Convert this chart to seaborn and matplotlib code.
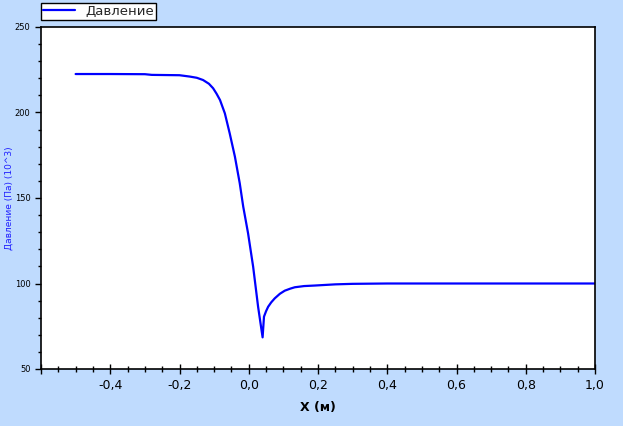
import numpy as np
import pandas as pd
import matplotlib
matplotlib.use('Agg')
import matplotlib.pyplot as plt
import seaborn as sns
from matplotlib.ticker import MultipleLocator, FuncFormatter

# pressure profile
x_m = [-0.5, -0.4, -0.3, -0.28, -0.2, -0.17, -0.15, -0.132, -0.115, -0.103,
       -0.093, -0.083, -0.069, -0.055, -0.040, -0.026, -0.016, -0.002, 0.0127, 0.027,
       0.040, 0.044, 0.05, 0.056, 0.065, 0.075, 0.09, 0.104, 0.12, 0.133,
       0.16, 0.19, 0.25, 0.3, 0.4, 0.6, 0.8, 1.0]
pressure = [222.5, 222.5, 222.4, 222.0, 221.8, 221.0, 220.3, 219.0, 216.8, 214.2,
            211.0, 207.3, 199.5, 187.8, 174.2, 158.6, 145.0, 129.4, 109.8, 86.4,
            68.5, 80.6, 83.8, 86.4, 89.0, 91.3, 94.0, 95.8, 97.0, 97.8,
            98.5, 98.8, 99.5, 99.8, 100.0, 100.0, 100.0, 100.0]

df = pd.DataFrame({'x': x_m, 'p': pressure})

sns.set_style('ticks')
plt.rcParams['font.family'] = ['DejaVu Sans']
plt.rcParams['axes.unicode_minus'] = False

bg = '#BFDBFE'
fig = plt.figure(figsize=(6.23, 4.26), dpi=100, facecolor=bg)
ax = fig.add_axes([41/623, 57/426, (595-41)/623, (369-27)/426])
ax.set_facecolor('white')

sns.lineplot(data=df, x='x', y='p', estimator=None, sort=False, color='#0000FF',
             linewidth=1.6, ax=ax, label='Давление', legend=False)

ax.set_xlim(-0.6, 1.0)
ax.set_ylim(50, 250)
ax.xaxis.set_major_locator(MultipleLocator(0.2))
ax.xaxis.set_minor_locator(MultipleLocator(0.05))
ax.yaxis.set_major_locator(MultipleLocator(50))
ax.yaxis.set_minor_locator(MultipleLocator(10))

def comma_fmt(v, pos):
    if v < -0.55:
        return ''
    return ('%.1f' % v).replace('.', ',')

ax.xaxis.set_major_formatter(FuncFormatter(comma_fmt))
ax.yaxis.set_major_formatter(FuncFormatter(lambda v, p: '%d' % v))

for s in ax.spines.values():
    s.set_color('black')
    s.set_linewidth(1.2)

ax.tick_params(axis='x', which='major', direction='inout', length=7, width=1,
               labelsize=9, pad=4, colors='black')
ax.tick_params(axis='x', which='minor', direction='inout', length=4.5, width=1, colors='black')
ax.tick_params(axis='y', which='major', direction='out', length=4.5, width=1,
               labelsize=6, pad=3, colors='black')
ax.tick_params(axis='y', which='minor', direction='out', length=2.5, width=1, colors='black')

ax.set_xlabel('X (м)', fontsize=9, fontweight='bold', labelpad=6, color='black')
ax.set_ylabel('Давление (Па) (10^3)', fontsize=6.5, color='#2020FF')
ax.yaxis.set_label_coords((14 - 41) / 554, 0.5)

leg = fig.legend(handles=ax.get_lines(), labels=['Давление'], loc='upper left',
                 bbox_to_anchor=(41/623, 1 - 3/426), borderaxespad=0, fontsize=9.5,
                 frameon=True, fancybox=False, edgecolor='black', framealpha=1,
                 handlelength=2.4, borderpad=0.15, handletextpad=0.8)
leg.get_frame().set_linewidth(1.0)
leg.get_frame().set_facecolor('white')

fig.savefig('out.png', dpi=100, facecolor=bg)
